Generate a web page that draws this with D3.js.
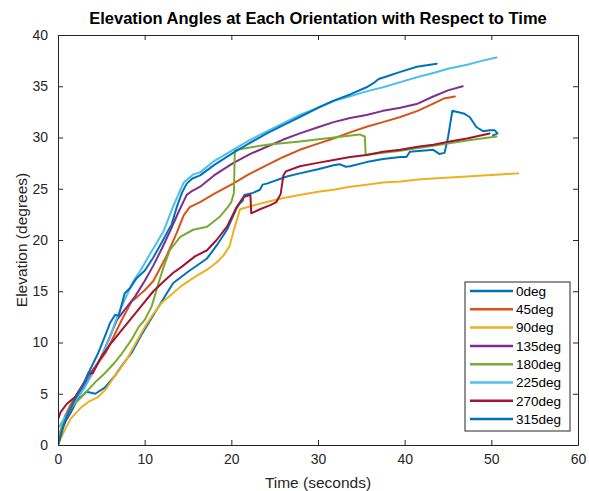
<!DOCTYPE html>
<html>
<head>
<meta charset="utf-8">
<script src="https://cdn.jsdelivr.net/npm/d3@7"></script>
<style>
  html, body { margin: 0; padding: 0; background: #fff; }
  svg { display: block; font-family: "Liberation Sans", Arial, Helvetica, sans-serif; }
</style>
</head>
<body>
<svg id="chart" width="589" height="491"></svg>
<script>
// ---- Data (time in seconds, elevation in degrees) ----
const seriesNames = ["0deg", "45deg", "90deg", "135deg", "180deg", "225deg", "270deg", "315deg"];
const seriesColors = ["#0072BD", "#D95319", "#EDB120", "#7E2F8E", "#77AC30", "#4DBEEE", "#A2142F", "#0072BD"];

const data0deg = [[0,0],[0.5,1.8],[1.5,3.2],[2.15,4.3],[2.7,4.7],[3.3,5.2],[4.3,5.0],[5.4,5.6],[6.6,6.8],[7.5,7.9],[8.5,9.0],[9.6,10.7],[10.8,12.4],[12.7,15.0],[13.3,15.8],[15,16.9],[17.2,18.2],[18.5,19.7],[19.5,21.0],[20.6,23.1],[21,23.6],[21.3,23.8],[21.5,24.4],[22.5,24.6],[23.3,24.9],[23.6,25.4],[24.1,25.5],[26.4,26.2],[27.9,26.5],[30,26.9],[31.8,27.3],[32.5,27.4],[33.2,27.15],[33.7,27.2],[35.6,27.6],[37.5,27.9],[39.5,28.1],[40.2,28.1],[40.6,28.6],[43.3,28.8],[44.0,28.4],[44.6,28.5],[45.0,30.0],[45.5,32.6],[46.8,32.35],[47.5,32.0],[48.3,31.0],[49.1,30.6],[49.8,30.7],[50.4,30.7],[50.7,30.4],[50.2,30.2]];
const data45deg = [[0,0],[0.8,2.8],[1.5,4.0],[2.7,5.7],[3.5,6.8],[4.65,8.0],[5.5,9.0],[6.2,10.2],[7.35,12.2],[8.5,14.0],[9.2,14.5],[10,15.1],[11,16.0],[12.5,18.4],[13.7,20.7],[14.5,22.4],[15.2,23.2],[16.4,23.7],[18,24.5],[20.2,25.5],[22,26.4],[24.1,27.3],[26,28.1],[27.9,28.8],[30,29.4],[31.8,29.9],[33.7,30.5],[35.6,31.05],[37.5,31.5],[39.5,32.0],[41.5,32.6],[43.3,33.3],[44.5,33.8],[45.8,34.0]];
const data90deg = [[0,0],[0.3,0.6],[0.8,1.5],[1.5,2.6],[2.7,3.7],[3.5,4.2],[4.65,4.7],[5.5,5.4],[6.2,6.3],[7,7.2],[8.1,8.6],[9,10.0],[10,11.5],[11,12.8],[12,13.9],[13,14.6],[14.2,15.5],[15.8,16.4],[17.2,17.1],[18.3,17.8],[19.1,18.5],[19.8,19.4],[20.3,21.0],[20.8,22.4],[21.0,23.0],[22.2,23.3],[24.1,23.7],[26,24.1],[27.9,24.4],[30,24.7],[31.8,24.9],[33.7,25.2],[35.6,25.4],[37.5,25.6],[39.5,25.7],[41.5,25.9],[43.3,26.0],[45.2,26.1],[47.2,26.2],[49,26.3],[51,26.4],[53.1,26.5]];
const data135deg = [[0,0],[0.5,1.5],[1,2.6],[2,4.2],[3,5.6],[4,7.2],[5,8.6],[6,10.6],[6.8,12.2],[7.8,13.3],[8.9,14.5],[10,16.0],[11,17.5],[12,19.2],[13,21.0],[14,22.9],[14.85,24.4],[15.5,24.8],[16.4,25.2],[18,26.3],[20.2,27.5],[22.2,28.4],[24.1,29.1],[26,29.8],[27.9,30.4],[30,31.0],[31.8,31.5],[33.7,31.9],[35.6,32.2],[37.5,32.6],[39.5,32.9],[41.5,33.3],[43.3,34.0],[45,34.6],[46.7,35.0]];
const data180deg = [[0,0],[0.05,0.8],[0.5,2.0],[1.6,3.7],[2.5,4.5],[3.5,5.4],[4.5,6.3],[5.4,7.0],[6.5,8.0],[7.35,8.9],[8.5,10.3],[9.3,11.5],[10,12.2],[10.8,13.5],[11.6,15.8],[12.2,17.4],[12.9,19.0],[14.1,20.3],[15.6,21.0],[17.2,21.3],[18.7,22.3],[19.5,23.1],[20.0,23.7],[20.3,24.6],[20.4,28.7],[20.6,28.8],[24.1,29.3],[27.9,29.6],[31.8,30.0],[34.8,30.3],[35.4,30.1],[35.5,28.3],[37.5,28.5],[39.5,28.7],[43.3,29.2],[47.2,29.7],[50.6,30.1]];
const data225deg = [[0,1.6],[0.5,2.3],[1,3.0],[2,4.3],[3,5.5],[4,7.0],[5,8.6],[6,10.5],[6.6,12.0],[7.5,13.8],[8.7,16.0],[9.5,17.0],[10.6,18.6],[12.15,20.8],[13.3,23.3],[14.5,25.6],[15.6,26.4],[16.4,26.6],[18,27.7],[20.2,28.8],[22,29.7],[24.1,30.6],[26,31.4],[27.9,32.2],[30,32.9],[32,33.6],[34,34.1],[35.6,34.5],[37.5,34.9],[39.5,35.4],[41.5,35.9],[43.3,36.3],[45,36.7],[47.2,37.1],[49,37.5],[50.6,37.8]];
const data270deg = [[0,2.5],[0.3,3.2],[1,4.0],[2,4.7],[3,6.0],[3.5,7.0],[4,7.0],[5,8.6],[6,9.8],[7.35,11.2],[8.5,12.4],[9.65,13.6],[11,15.0],[12,15.8],[13.3,16.8],[14.3,17.4],[15.8,18.4],[17.2,19.0],[18.3,20.0],[19.5,21.3],[20.6,23.2],[21.4,24.2],[22.2,24.4],[22.3,22.6],[23.3,23.0],[24.5,23.4],[25.2,23.7],[25.7,24.5],[26.0,26.3],[26.3,26.7],[27.9,27.2],[29.8,27.5],[31.8,27.8],[33.7,28.1],[35.6,28.3],[37.5,28.6],[39.5,28.8],[41.5,29.1],[43.3,29.3],[45.2,29.6],[47.2,29.9],[49.8,30.4]];
const data315deg = [[0,0],[0.5,1.5],[1,2.8],[2,4.5],[3,6.0],[3.5,7.0],[4.6,8.9],[5.5,10.8],[6,11.9],[6.6,12.7],[7,12.6],[7.7,14.8],[8.3,15.3],[9.1,16.3],[10,17.0],[11,18.3],[12,19.8],[12.5,20.6],[13.1,21.5],[13.7,23.2],[14.3,24.6],[14.85,25.5],[15.5,26.0],[16.4,26.3],[18,27.3],[20.2,28.5],[22,29.4],[24.1,30.4],[26,31.2],[27.9,32.0],[30,32.9],[31.8,33.6],[33.7,34.2],[35.6,34.9],[36.4,35.3],[37,35.7],[37.9,35.95],[39.5,36.4],[41.4,36.9],[43.7,37.2]];

const allSeries = [data0deg, data45deg, data90deg, data135deg, data180deg, data225deg, data270deg, data315deg];

const xTicks = [0, 10, 20, 30, 40, 50, 60];
const yTicks = [0, 5, 10, 15, 20, 25, 30, 35, 40];

const titleText = "Elevation Angles at Each Orientation with Respect to Time";
const xLabel = "Time (seconds)";
const yLabel = "Elevation (degrees)";

(function draw() {
  const svg = d3.select("#chart");
  const pL = 58, pR = 578, pT = 35, pB = 445;
  const axisColor = "#262626";
  const fontFam = "'Liberation Sans', Arial, sans-serif";

  const x = d3.scaleLinear().domain([0, 60]).range([pL, pR]);
  const y = d3.scaleLinear().domain([0, 40]).range([pB, pT]);

  svg.append("rect").attr("x", 0).attr("y", 0).attr("width", 589).attr("height", 491).attr("fill", "#fff");

  svg.append("clipPath").attr("id", "plotclip").append("rect")
    .attr("x", pL).attr("y", pT).attr("width", pR - pL).attr("height", pB - pT);

  const line = d3.line().x(d => x(d[0])).y(d => y(d[1]));
  const g = svg.append("g").attr("clip-path", "url(#plotclip)");
  allSeries.forEach((s, i) => {
    g.append("path")
      .datum(s)
      .attr("d", line)
      .attr("fill", "none")
      .attr("stroke", seriesColors[i])
      .attr("stroke-width", 2)
      .attr("stroke-linejoin", "round")
      .attr("stroke-linecap", "round");
  });

  const tickLen = 5;
  const axB = svg.append("g").attr("transform", `translate(0,${pB})`)
    .call(d3.axisBottom(x).tickValues(xTicks).tickSize(-tickLen).tickSizeOuter(0).tickPadding(9).tickFormat(d3.format("d")));
  const axT = svg.append("g").attr("transform", `translate(0,${pT})`)
    .call(d3.axisTop(x).tickValues(xTicks).tickSize(-tickLen).tickSizeOuter(0).tickFormat(""));
  const axL = svg.append("g").attr("transform", `translate(${pL},0)`)
    .call(d3.axisLeft(y).tickValues(yTicks).tickSize(-tickLen).tickSizeOuter(0).tickPadding(10).tickFormat(d3.format("d")));
  const axR = svg.append("g").attr("transform", `translate(${pR},0)`)
    .call(d3.axisRight(y).tickValues(yTicks).tickSize(-tickLen).tickSizeOuter(0).tickFormat(""));

  [axB, axT, axL, axR].forEach(a => {
    a.select(".domain").attr("stroke", axisColor).attr("stroke-width", 1);
    a.selectAll(".tick line").attr("stroke", axisColor);
    a.selectAll(".tick text").attr("fill", axisColor)
      .style("font-family", fontFam).style("font-size", "14px");
  });

  svg.append("text")
    .attr("x", (pL + pR) / 2).attr("y", 24)
    .attr("text-anchor", "middle")
    .attr("font-weight", "bold")
    .attr("font-size", "16.5px")
    .attr("fill", "#000")
    .text(titleText);

  svg.append("text")
    .attr("x", (pL + pR) / 2).attr("y", 488)
    .attr("text-anchor", "middle")
    .attr("font-size", "15.5px")
    .attr("fill", axisColor)
    .text(xLabel);

  svg.append("text")
    .attr("transform", `translate(27,${(pT + pB) / 2}) rotate(-90)`)
    .attr("text-anchor", "middle")
    .attr("font-size", "15.5px")
    .attr("fill", axisColor)
    .text(yLabel);

  const lgX = 465, lgY = 282, lgW = 105, lgH = 149;
  const lg = svg.append("g");
  lg.append("rect").attr("x", lgX).attr("y", lgY).attr("width", lgW).attr("height", lgH)
    .attr("fill", "#fff").attr("stroke", axisColor).attr("stroke-width", 1);
  seriesNames.forEach((name, i) => {
    const ry = 291 + i * 18.3;
    lg.append("line").attr("x1", 470).attr("x2", 513).attr("y1", ry).attr("y2", ry)
      .attr("stroke", seriesColors[i]).attr("stroke-width", 2.5);
    lg.append("text").attr("x", 516).attr("y", ry + 4.8)
      .attr("font-size", "13.5px").attr("fill", "#000").text(name);
  });
})();
</script>
</body>
</html>
